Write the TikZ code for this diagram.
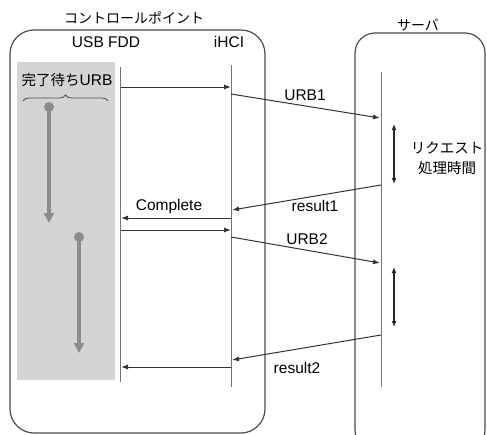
\documentclass[tikz,border=0pt]{standalone}
\usepackage{fontspec}
\setmainfont{Liberation Sans}
\newfontfamily\jp{Noto Sans CJK JP}
\usetikzlibrary{arrows.meta, positioning, decorations.pathreplacing}

\begin{document}
\begin{tikzpicture}[x=1pt, y=-1pt,
    font=\fontsize{15.5}{18}\selectfont,
    frame/.style={draw=black!70, line width=1.2pt, rounded corners=24pt},
    life/.style={draw=black!55, line width=1pt},
    msg/.style={draw=black!80, line width=1pt, -{Latex[length=7pt,width=5pt]}},
    waiting/.style={draw=black!45, line width=3.2pt, -{Triangle[length=10pt,width=10pt]}},
    span/.style={draw=black!85, line width=1.3pt, {Latex[length=6pt,width=5pt]}-{Latex[length=6pt,width=5pt]}}]
    \useasboundingbox (0,0) rectangle (487,434);

    % boxes
    \draw[frame] (10,30) rectangle (265,433);
    \draw[frame, rounded corners=20pt] (355,33) rectangle (485,450);
    \node[font=\jp\fontsize{14}{17}\selectfont] (cp) at (134,18) {コントロールポイント};
    \node[font=\jp\fontsize{14}{17}\selectfont] (srv) at (418,25) {サーバ};

    % waiting area
    \fill[black!17] (17,62) rectangle (115,380);
    \node (wait) at (67,80) {{\jp\fontsize{14.5}{17}\selectfont 完了待ち}URB};
    \draw[black!70, line width=0.8pt, decorate, decoration={brace, amplitude=6pt}] (23,101) -- (108,101);

    % lifelines
    \node (fdd) at (106,42) {USB FDD};
    \node (hci) at (229,42) {iHCI};
    \coordinate (fddT) at (120,67);  \coordinate (fddB) at (120,382);
    \coordinate (hciT) at (231,65);  \coordinate (hciB) at (231,387);
    \coordinate (srvT) at (381,72);  \coordinate (srvB) at (381,387);
    \draw[life] (fddT) -- (fddB);
    \draw[life] (hciT) -- (hciB);
    \draw[life] (srvT) -- (srvB);

    % pending URBs
    \fill[black!45] (49,107) circle (5pt) coordinate (w1);
    \coordinate (w1e) at (49,223);
    \draw[waiting] (w1) -- (w1e);
    \fill[black!45] (79,237) circle (5pt) coordinate (w2);
    \coordinate (w2e) at (79,353);
    \draw[waiting] (w2) -- (w2e);

    % first request
    \coordinate (f1) at (121,87);  \coordinate (h1) at (231,87);
    \draw[msg] (f1) -- (h1);
    \coordinate (h2) at (231,94);  \coordinate (s2) at (380,118);
    \draw[msg] (h2) -- (s2);
    \node (urb1) at (305,95) {URB1};
    \coordinate (d1a) at (394,124); \coordinate (d1b) at (394,184);
    \draw[span] (d1a) -- (d1b);
    \node[align=center, font=\jp\fontsize{14.5}{20}\selectfont] (req) at (447,158) {リクエスト\\処理時間};
    \coordinate (s3) at (381,185);  \coordinate (h3) at (232,210);
    \draw[msg] (s3) -- (h3);
    \node (res1) at (315,206) {result1};
    \coordinate (h4) at (231,218);  \coordinate (f4) at (121,218);
    \draw[msg] (h4) -- (f4);
    \node (cmp) at (169,206) {Complete};

    % second request
    \coordinate (f5) at (121,230);  \coordinate (h5) at (231,230);
    \draw[msg] (f5) -- (h5);
    \coordinate (h6) at (231,237);  \coordinate (s6) at (380,263);
    \draw[msg] (h6) -- (s6);
    \node (urb2) at (307,239) {URB2};
    \coordinate (d2a) at (394,267); \coordinate (d2b) at (394,327);
    \draw[span] (d2a) -- (d2b);
    \coordinate (s7) at (381,335);  \coordinate (h7) at (232,360);
    \draw[msg] (s7) -- (h7);
    \node (res2) at (297,368) {result2};
    \coordinate (h8) at (231,367);  \coordinate (f8) at (121,367);
    \draw[msg] (h8) -- (f8);
\end{tikzpicture}
\end{document}
